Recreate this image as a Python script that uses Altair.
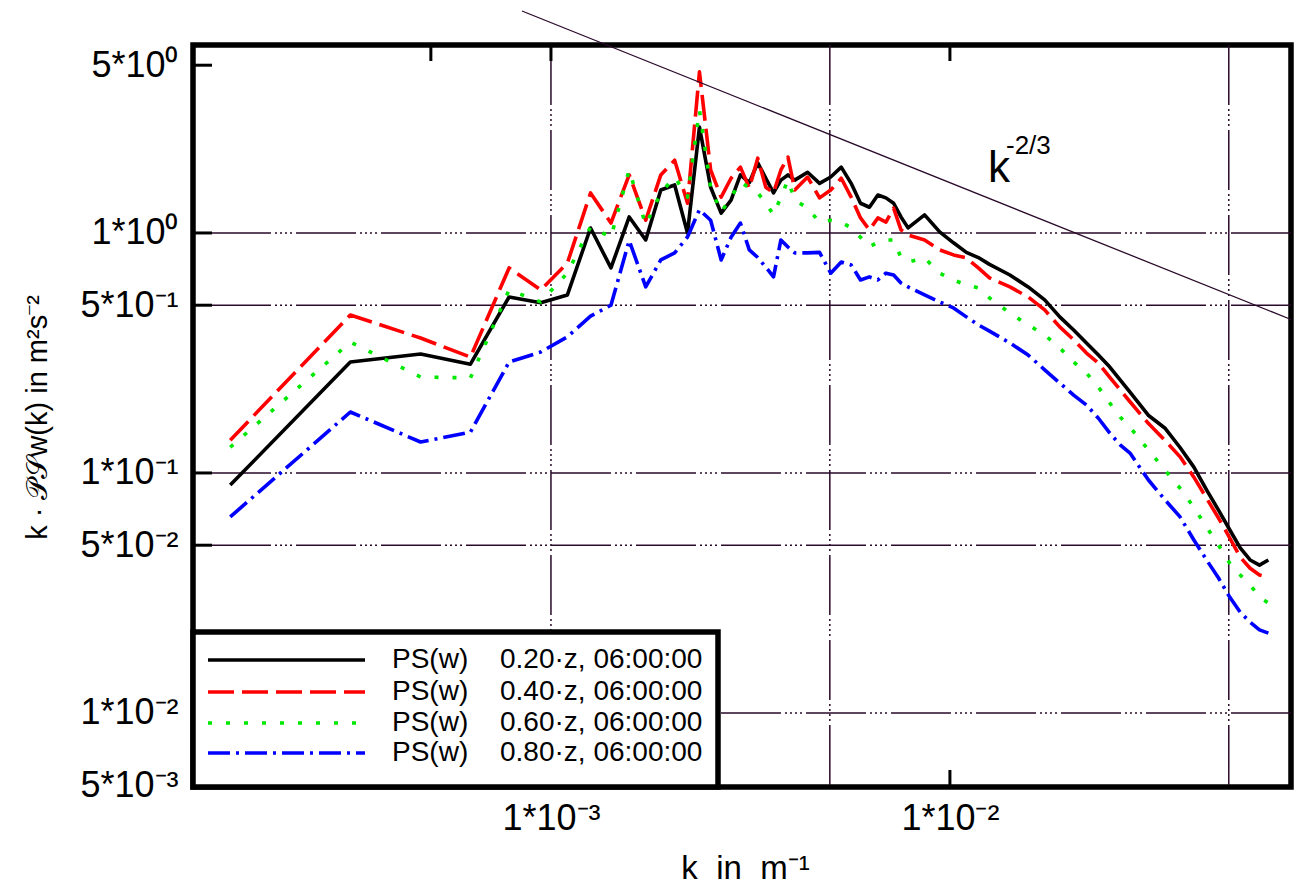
import altair as alt
import pandas as pd

FONT = "Liberation Sans"
GRID_COLOR = "#2a0a2a"
SP = "\u00a0"

# ---------------- data ----------------
K_FUNDAMENTAL = 1.5708e-4  # spacing of the resolved wavenumbers (m^-1)
MODE_INDEX = list(range(1, 26)) + [
    26, 28, 30, 32, 34, 36, 38, 40, 42, 44, 46, 48, 50,
    55, 60, 65, 70, 75, 80,
    90, 100, 110, 120, 130, 140, 150, 160, 170, 180,
    200, 220, 240, 260, 280, 300, 320, 340, 360, 380, 400,
]

PS_020 = [0.089, 0.290, 0.313, 0.284, 0.541, 0.512, 0.552, 1.049, 0.715, 1.166,
          0.935, 1.51, 1.585, 1.00, 2.76, 1.55, 1.21, 1.37, 1.745, 1.62,
          1.96, 1.69, 1.47, 1.66, 1.745,
          1.66, 1.79, 1.61, 1.71, 1.88, 1.61, 1.33, 1.28, 1.44, 1.40, 1.33, 1.166, 1.05,
          1.19, 1.01, 0.91, 0.83, 0.79, 0.74,
          0.668, 0.596, 0.526, 0.447, 0.394, 0.348, 0.310, 0.277, 0.244, 0.217,
          0.174, 0.154, 0.128, 0.106, 0.085, 0.070, 0.058, 0.0487, 0.0434, 0.0413, 0.0434]

PS_040 = [0.137, 0.455, 0.365, 0.304, 0.715, 0.579, 0.750, 1.468, 1.10, 1.745,
          1.13, 1.745, 2.01, 1.33, 4.69, 1.83, 1.41, 1.69, 1.88, 1.54,
          2.05, 1.55, 1.47, 1.83, 2.07,
          1.51, 1.71, 1.40, 1.51, 1.69, 1.41, 1.155, 1.03, 1.155, 1.11, 1.27, 1.03, 0.98,
          0.935, 0.85, 0.81, 0.787, 0.715, 0.65,
          0.596, 0.541, 0.478, 0.406, 0.359, 0.316, 0.287, 0.251, 0.222, 0.198,
          0.161, 0.137, 0.117, 0.0963, 0.0785, 0.0649, 0.0537, 0.0446, 0.0401, 0.0376, 0.0367]

PS_060 = [0.128, 0.351, 0.251, 0.249, 0.579, 0.516, 0.681, 1.06, 0.96, 1.83,
          1.08, 1.47, 1.71, 1.41, 3.25, 1.55, 1.22, 1.41, 1.63, 1.54,
          1.47, 1.33, 1.19, 1.41, 1.66,
          1.37, 1.27, 1.11, 1.13, 1.11, 1.05, 0.96, 0.875, 0.917, 0.935, 0.935, 0.79, 0.757,
          0.787, 0.68, 0.637, 0.607, 0.59, 0.536,
          0.464, 0.414, 0.376, 0.332, 0.290, 0.261, 0.228, 0.196, 0.171, 0.155,
          0.125, 0.103, 0.0866, 0.0721, 0.0595, 0.050, 0.0421, 0.0376, 0.0342, 0.0304, 0.0287]

PS_080 = [0.0656, 0.1795, 0.1346, 0.148, 0.290, 0.319, 0.369, 0.45, 0.50, 0.93,
          0.596, 0.772, 0.826, 0.962, 1.25, 1.13, 0.772, 0.96, 1.10, 0.85,
          0.79, 0.72, 0.656, 0.935, 0.874,
          0.826, 0.826, 0.83, 0.68, 0.757, 0.736, 0.637, 0.656, 0.637, 0.68, 0.668, 0.619, 0.596,
          0.552, 0.516, 0.487, 0.447, 0.414, 0.39,
          0.348, 0.310, 0.269, 0.237, 0.211, 0.192, 0.169, 0.147, 0.131, 0.121,
          0.0937, 0.0774, 0.0658, 0.0527, 0.0434, 0.0365, 0.0304, 0.0263, 0.0239, 0.0222, 0.0215]

SERIES_NAMES = ["0.20·z, 06:00:00", "0.40·z, 06:00:00", "0.60·z, 06:00:00", "0.80·z, 06:00:00"]
SERIES_VALUES = [PS_020, PS_040, PS_060, PS_080]
SERIES_COLORS = ["#000000", "#ff0000", "#00e800", "#0000ff"]
SERIES_DASHES = [None, [26, 8], [4, 14], [22, 6, 3, 6]]

# k^(-2/3) reference line end points
REF_K = [8.46e-4, 7.16e-2]
REF_V = [8.41, 0.436]

Y_TICKS = [5, 1, 0.5, 0.1, 0.05, 0.01, 0.005]
Y_GRID = [1, 0.5, 0.1, 0.05, 0.01]
X_TICKS = [5e-4, 1e-3, 1e-2]
X_GRID = [1e-3, 5e-3, 5e-2]
X_LABELS = [1e-3, 1e-2]

Y_LABEL_TEXT = {5: "5*10⁰", 1: "1*10⁰", 0.5: "5*10⁻¹", 0.1: "1*10⁻¹",
                0.05: "5*10⁻²", 0.01: "1*10⁻²", 0.005: "5*10⁻³"}
X_LABEL_TEXT = {1e-3: "1*10⁻³", 1e-2: "1*10⁻²"}

# ---------------- build ----------------
rows = []
for name, vals in zip(SERIES_NAMES, SERIES_VALUES):
    for n, v in zip(MODE_INDEX, vals):
        rows.append({"series": name, "k": n * K_FUNDAMENTAL, "value": v})
df = pd.DataFrame(rows)

W, H = 1098, 742
xs = alt.Scale(type="log", domain=[1.267e-4, 7.16e-2], nice=False, zero=False)
ys = alt.Scale(type="log", domain=[4.915e-3, 6.07], nice=False, zero=False)


def label_expr(mapping):
    parts = [f"abs(datum.value - {v}) < {v * 1e-3} ? '{s}'" for v, s in mapping.items()]
    return " : ".join(parts) + " : ''"


x_axis = alt.Axis(values=X_LABELS, labelExpr=label_expr(X_LABEL_TEXT), ticks=False,
                  domain=False, grid=False, labelFont=FONT, labelFontSize=36,
                  labelColor="black", labelPadding=14, labelFlush=False,
                  labelOverlap=False, labelBound=False,
                  title=f"k{SP}{SP}in{SP}{SP}m⁻¹", titleFont=FONT, titleFontSize=33,
                  titleFontWeight="normal", titleColor="black",
                  titleX=552, titleY=91, titleAlign="center", titleBaseline="alphabetic")
y_axis = alt.Axis(values=Y_TICKS, labelExpr=label_expr(Y_LABEL_TEXT), ticks=False,
                  domain=False, grid=False, labelFont=FONT, labelFontSize=36,
                  labelColor="black", labelPadding=15, labelFlush=False,
                  labelOverlap=False, labelBound=False,
                  title=f"k{SP}·{SP}𝒫𝒮w(k){SP}in{SP}m²s⁻²", titleFont=FONT,
                  titleFontSize=29, titleFontWeight="normal", titleColor="black",
                  titleAngle=270, titleX=-156, titleY=372, titleAlign="center",
                  titleBaseline="middle")

X = lambda f: alt.X(f, scale=xs, axis=x_axis)
Y = lambda f: alt.Y(f, scale=ys, axis=y_axis)

GRID_DASH = [60, 4, 2, 3, 2, 3, 2, 3, 2, 4]

grid_h = alt.Chart(pd.DataFrame({"value": Y_GRID})).mark_rule(
    color=GRID_COLOR, strokeWidth=1.5, strokeDash=GRID_DASH).encode(y=Y("value:Q"))
grid_v = alt.Chart(pd.DataFrame({"k": X_GRID})).mark_rule(
    color=GRID_COLOR, strokeWidth=1.5, strokeDash=GRID_DASH).encode(x=X("k:Q"))

ticks_y = alt.Chart(pd.DataFrame({"value": Y_TICKS})).mark_rule(
    color="black", strokeWidth=3).encode(y=Y("value:Q"), x=alt.value(0), x2=alt.value(19))
ticks_top = alt.Chart(pd.DataFrame({"k": X_TICKS})).mark_rule(
    color="black", strokeWidth=3).encode(x=X("k:Q"), y=alt.value(0), y2=alt.value(16))
ticks_bot = alt.Chart(pd.DataFrame({"k": X_TICKS})).mark_rule(
    color="black", strokeWidth=3).encode(x=X("k:Q"), y=alt.value(H), y2=alt.value(H - 17))

series_layers = []
for name, color, dash in zip(SERIES_NAMES, SERIES_COLORS, SERIES_DASHES):
    props = dict(color=color, strokeWidth=3.6, strokeJoin="round")
    if dash:
        props["strokeDash"] = dash
    series_layers.append(
        alt.Chart(df).transform_filter(alt.datum.series == name)
        .mark_line(**props).encode(x=X("k:Q"), y=Y("value:Q"))
    )

ref_line = alt.Chart(pd.DataFrame({"k": REF_K, "value": REF_V})).mark_line(
    color=GRID_COLOR, strokeWidth=1.3).encode(x=X("k:Q"), y=Y("value:Q"))

one = pd.DataFrame({"a": [0]})
ref_k = alt.Chart(one).mark_text(text="k", font=FONT, fontSize=44, align="left",
                                 baseline="alphabetic", color="black").encode(
    x=alt.value(795), y=alt.value(137))
ref_exp = alt.Chart(one).mark_text(text="-2/3", font=FONT, fontSize=26, align="left",
                                   baseline="alphabetic", color="black").encode(
    x=alt.value(813), y=alt.value(109))

legend_box = alt.Chart(one).mark_rect(fill="white", stroke="black", strokeWidth=5.5).encode(
    x=alt.value(0), x2=alt.value(525), y=alt.value(587), y2=alt.value(742))

legend_layers = []
ROW_Y = [615, 647, 678, 708]
for name, color, dash, ry in zip(SERIES_NAMES, SERIES_COLORS, SERIES_DASHES, ROW_Y):
    props = dict(color=color, strokeWidth=3.6)
    if dash:
        props["strokeDash"] = dash
    legend_layers.append(alt.Chart(one).mark_rule(**props).encode(
        x=alt.value(15), x2=alt.value(172), y=alt.value(ry)))
    legend_layers.append(alt.Chart(one).mark_text(
        text="PS(w)", font=FONT, fontSize=28, align="left", baseline="middle",
        color="black").encode(x=alt.value(199), y=alt.value(ry)))
    legend_layers.append(alt.Chart(one).mark_text(
        text=name, font=FONT, fontSize=28, align="left", baseline="middle",
        color="black").encode(x=alt.value(307), y=alt.value(ry)))

chart = alt.layer(
    grid_h, grid_v, ticks_y, ticks_top, ticks_bot,
    *series_layers, ref_line, ref_k, ref_exp, legend_box, *legend_layers,
).properties(
    width=W, height=H,
    padding={"left": 185, "top": 37, "right": 3, "bottom": 100},
    autosize=alt.AutoSizeParams(type="none"),
    background="white",
).configure_view(stroke="black", strokeWidth=5.5)

chart.save("out.html", embed_options={"renderer": "svg", "actions": False})
